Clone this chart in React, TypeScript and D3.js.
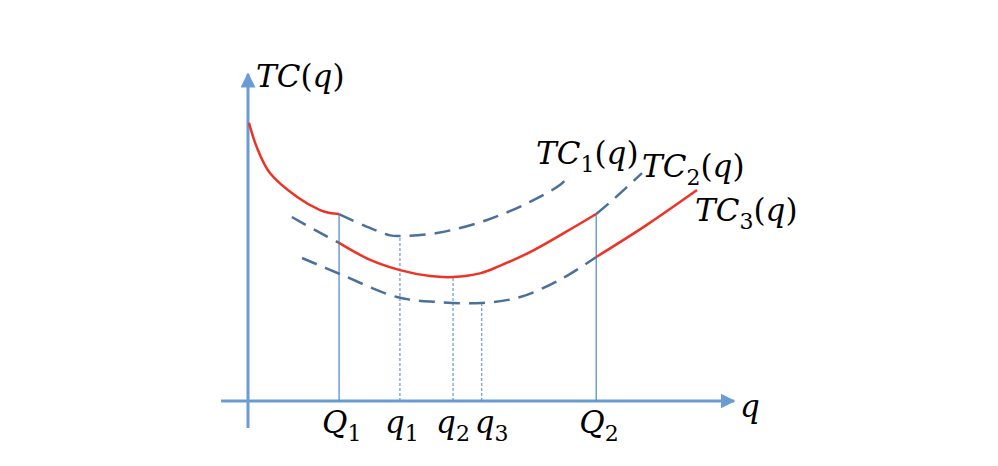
import * as React from 'react';
import * as d3 from 'd3';

// curves as [q, TC] points
const tc1: [number, number][] = [
  [0.02, 8.48], [0.18, 7.74], [0.45, 6.95], [1.01, 6.22], [1.48, 5.82], [1.68, 5.73], [1.87, 5.70],
  [2.40, 5.34], [2.92, 5.05], [3.12, 5.03], [3.88, 5.12], [4.91, 5.52], [5.79, 6.07], [6.41, 6.59], [6.57, 6.83],
];
const tc2: [number, number][] = [
  [0.90, 5.61], [1.38, 5.21], [1.87, 4.82],
  [2.51, 4.30], [3.12, 3.99], [3.74, 3.81], [4.21, 3.78], [4.76, 3.89], [5.17, 4.12], [5.79, 4.54], [6.51, 5.14], [7.15, 5.70],
  [7.49, 6.13], [8.09, 6.95],
];
const tc3: [number, number][] = [
  [1.11, 4.36], [1.89, 3.87], [3.06, 3.17], [3.88, 3.02], [4.80, 2.99], [5.59, 3.17], [6.47, 3.75], [7.15, 4.39],
  [8.19, 5.37], [9.22, 6.43],
];

// switch points (solid guides) and minima (dotted guides)
const switchPts = [
  { label: 'Q', sub: '1', q: 1.87, top: 5.70 },
  { label: 'Q', sub: '2', q: 7.15, top: 5.70 },
];
const minPts = [
  { label: 'q', sub: '1', q: 3.12, top: 5.03, dx: 0 },
  { label: 'q', sub: '2', q: 4.21, top: 3.78, dx: -2 },
  { label: 'q', sub: '3', q: 4.80, top: 2.99, dx: 8 },
];
const curveLabels = [
  { sub: '1', x: 536, y: 164 },
  { sub: '2', x: 642, y: 177 },
  { sub: '3', x: 695, y: 221 },
];

const W = 998, H = 466;
const AXIS = '#6a9bd3';
const DASH = '#4b709a';
const RED = '#ee3226';
const FONT = '"DejaVu Serif", serif';

const x = d3.scaleLinear().domain([0, 10]).range([248, 735]);
const y = d3.scaleLinear().domain([0, 10]).range([401, 73]);

const line = d3.line<[number, number]>()
  .x(d => x(d[0]))
  .y(d => y(d[1]))
  .curve(d3.curveCatmullRom.alpha(0.5));

const part = (pts: [number, number][], lo: number, hi: number) =>
  line(pts.filter(p => p[0] >= lo - 1e-6 && p[0] <= hi + 1e-6)) || '';

function MathLabel(props: { x: number; y: number; base: string; sub?: string; paren?: boolean }) {
  const { base, sub, paren } = props;
  return (
    <text x={props.x} y={props.y} fontFamily={FONT} fontSize={31} fill="#000">
      <tspan fontStyle="italic">{base}</tspan>
      {sub && <tspan fontSize={22} dy={8}>{sub}</tspan>}
      {paren && <tspan dy={sub ? -8 : 0}>(</tspan>}
      {paren && <tspan fontStyle="italic">q</tspan>}
      {paren && <tspan>)</tspan>}
    </text>
  );
}

export default function App() {
  const Q1 = switchPts[0].q, Q2 = switchPts[1].q;
  return (
    <svg width={W} height={H} style={{ position: 'absolute', left: 0, top: 0, background: '#fff' }}>
      <defs>
        <marker id="arr" viewBox="0 0 10 10" refX="9" refY="5" markerWidth="5" markerHeight="5" orient="auto" markerUnits="strokeWidth">
          <path d="M0,0 L10,5 L0,10 z" fill={AXIS} />
        </marker>
      </defs>

      {/* axes */}
      <line x1={x(0)} y1={428} x2={x(0)} y2={74} stroke={AXIS} strokeWidth={3} markerEnd="url(#arr)" />
      <line x1={221} y1={y(0)} x2={734} y2={y(0)} stroke={AXIS} strokeWidth={3} markerEnd="url(#arr)" />

      {/* guide lines */}
      {switchPts.map(p => (
        <line key={'s' + p.sub} x1={x(p.q)} x2={x(p.q)} y1={y(0)} y2={y(p.top)} stroke="#5b8fd0" strokeWidth={1.3} />
      ))}
      {minPts.map(p => (
        <line key={'m' + p.sub} x1={x(p.q)} x2={x(p.q)} y1={y(0)} y2={y(p.top)} stroke="#5b8fd0" strokeWidth={1.1} strokeDasharray="3,2" />
      ))}

      {/* dashed parts */}
      <g fill="none" stroke={DASH} strokeWidth={2.5} strokeDasharray="16,9">
        <path d={part(tc1, Q1, 99)} />
        <path d={part(tc2, -1, Q1)} />
        <path d={part(tc2, Q2, 99)} />
        <path d={part(tc3, -1, Q2)} />
      </g>

      {/* envelope */}
      <g fill="none" stroke={RED} strokeWidth={2.5}>
        <path d={part(tc1, -1, Q1)} />
        <path d={part(tc2, Q1, Q2)} />
        <path d={part(tc3, Q2, 99)} />
      </g>

      {/* labels */}
      <MathLabel x={256} y={87} base="TC" paren />
      {curveLabels.map(l => (
        <MathLabel key={l.sub} x={l.x} y={l.y} base="TC" sub={l.sub} paren />
      ))}
      <MathLabel x={740} y={417} base="q" />
      {switchPts.map(p => (
        <MathLabel key={p.sub} x={x(p.q) - 17} y={433} base={p.label} sub={p.sub} />
      ))}
      {minPts.map(p => (
        <MathLabel key={p.sub} x={x(p.q) - 15 + p.dx} y={433} base={p.label} sub={p.sub} />
      ))}
    </svg>
  );
}
